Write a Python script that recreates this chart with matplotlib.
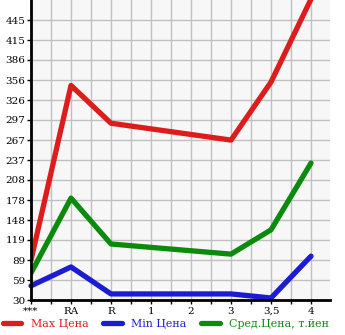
import numpy as np
import matplotlib.pyplot as plt

categories = ["***", "RA", "R", "1", "2", "3", "3,5", "4"]
# categories "1" and "2" carry no prices; lines join across them
data_idx = [0, 1, 2, 5, 6, 7]
max_price = [89, 348, 292, 267, 353, 476]
min_price = [51, 79, 39, 39, 33, 95]
avg_price = [70, 181, 113, 98, 134, 233]
y_ticks = [30, 59, 89, 119, 148, 178, 208, 237, 267, 297, 326, 356, 386, 415, 445]

RED = "#dd1c1c"
BLUE = "#1c1cd4"
GREEN = "#0b8a0b"

plt.rcParams["font.family"] = ["DejaVu Serif"]

fig = plt.figure(figsize=(3.45, 3.35), dpi=100)
ax = fig.add_axes([31 / 345, 35 / 335, 299 / 345, 300 / 335])
ax.set_facecolor("#f7f7f7")

step = (y_ticks[-1] - y_ticks[0]) / (len(y_ticks) - 1)
ax.set_ylim(y_ticks[0], y_ticks[-1] + step)
ax.set_xlim(0, 7.475)

style = dict(lw=3.8, solid_capstyle="round", solid_joinstyle="round")
ax.plot(data_idx, max_price, color=RED, label="Max Цена", **style)
ax.plot(data_idx, min_price, color=BLUE, label="Min Цена", clip_on=False, **style)
ax.plot(data_idx, avg_price, color=GREEN, label="Сред.Цена, т.йен", **style)

ax.set_yticks(y_ticks)
ax.set_yticklabels([str(v) for v in y_ticks])
ax.set_xticks(np.arange(0, 7.5, 0.5), minor=True)
ax.set_xticks(range(len(categories)))
ax.set_xticklabels(categories)
ax.grid(True, which="both", color="#c0c0c0", lw=1)
ax.set_axisbelow(True)
ax.tick_params(which="both", direction="out", length=3, width=1, color="black",
               labelsize=7.5, pad=2)
ax.tick_params(axis="y", pad=1)

for side in ["top", "right"]:
    ax.spines[side].set_visible(False)
for side in ["left", "bottom"]:
    ax.spines[side].set_linewidth(2)

leg = fig.legend(loc="lower left", bbox_to_anchor=(-0.005, 0.004), ncol=3, frameon=False,
                 fontsize=7.9, handlelength=1.7, handletextpad=0.85, columnspacing=1.35,
                 labelcolor="linecolor", borderaxespad=0)

fig.savefig("out.png", dpi=100)
